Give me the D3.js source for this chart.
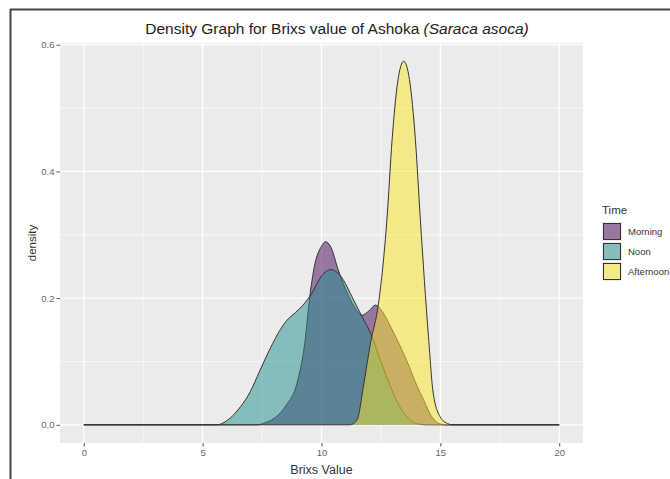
<!DOCTYPE html>
<html><head><meta charset="utf-8">
<script src="https://cdn.jsdelivr.net/npm/d3@7"></script>
<style>body{margin:0;background:#fff}svg{display:block;font-family:"Liberation Sans",Arial,sans-serif}</style>
</head><body>
<svg id="c" width="670" height="479"></svg>
<script>
const seriesNames = ["Morning", "Noon", "Afternoon"];
const seriesColors = ["#440154", "#21908C", "#FDE725"];
// density curves: [brix, density]
const morning = [[0,0],[7.3,0],[7.6,0.003],[8.0,0.01],[8.5,0.03],[9.0,0.07],[9.3,0.13],[9.5,0.2],[9.7,0.25],[10.0,0.282],[10.17,0.289],[10.4,0.28],[10.7,0.245],[11.0,0.215],[11.4,0.185],[11.7,0.173],[12.0,0.18],[12.27,0.189],[12.5,0.182],[12.7,0.17],[13.0,0.148],[13.3,0.125],[13.6,0.1],[14.0,0.063],[14.3,0.039],[14.6,0.015],[14.9,0.003],[15.2,0],[20,0]];
const noon = [[0,0],[5.6,0],[6.0,0.006],[6.6,0.029],[7.0,0.052],[7.4,0.085],[7.86,0.122],[8.2,0.146],[8.5,0.163],[8.9,0.177],[9.2,0.188],[9.6,0.208],[10.0,0.235],[10.4,0.245],[10.8,0.235],[11.35,0.197],[11.7,0.171],[12.13,0.139],[12.4,0.11],[12.8,0.07],[13.2,0.035],[13.6,0.012],[14.0,0.002],[14.4,0],[20,0]];
const afternoon = [[0,0],[11.2,0],[11.5,0.008],[11.76,0.06],[12.06,0.129],[12.4,0.192],[12.75,0.323],[12.97,0.45],[13.2,0.54],[13.46,0.574],[13.7,0.545],[13.95,0.45],[14.16,0.323],[14.5,0.139],[14.7,0.05],[15.0,0.012],[15.3,0.002],[15.5,0],[20,0]];
const seriesData = [morning, noon, afternoon];
const xTicks = [0, 5, 10, 15, 20];
const yTicks = [0, 0.2, 0.4, 0.6];
const titleMain = "Density Graph for Brixs value of Ashoka ";
const titleItalic = "(Saraca asoca)";

const svg = d3.select("#c");
const P = {l: 60, r: 583, t: 43, b: 443};
const x = d3.scaleLinear().domain([-1, 21]).range([P.l, P.r]);
const yMax = 0.574;
const y = d3.scaleLinear().domain([-0.05 * yMax, 1.05 * yMax]).range([P.b, P.t]);

// frame lines
svg.append("line").attr("x1", 10).attr("x2", 670).attr("y1", 9.5).attr("y2", 9.5).attr("stroke", "#444").attr("stroke-width", 2);
svg.append("line").attr("x1", 10.5).attr("x2", 10.5).attr("y1", 9).attr("y2", 479).attr("stroke", "#444").attr("stroke-width", 2);

// panel
svg.append("rect").attr("x", P.l).attr("y", P.t).attr("width", P.r - P.l).attr("height", P.b - P.t).attr("fill", "#EBEBEB");
const g = svg.append("g");
const xMinor = [2.5, 7.5, 12.5, 17.5];
const yMinor = [0.1, 0.3, 0.5];
g.selectAll(".xm").data(xMinor).join("line").attr("x1", d => x(d)).attr("x2", d => x(d)).attr("y1", P.t).attr("y2", P.b).attr("stroke", "#fff").attr("stroke-width", 0.6);
g.selectAll(".ym").data(yMinor).join("line").attr("y1", d => y(d)).attr("y2", d => y(d)).attr("x1", P.l).attr("x2", P.r).attr("stroke", "#fff").attr("stroke-width", 0.6);
g.selectAll(".xM").data(xTicks).join("line").attr("x1", d => x(d)).attr("x2", d => x(d)).attr("y1", P.t).attr("y2", P.b).attr("stroke", "#fff").attr("stroke-width", 1.2);
g.selectAll(".yM").data(yTicks).join("line").attr("y1", d => y(d)).attr("y2", d => y(d)).attr("x1", P.l).attr("x2", P.r).attr("stroke", "#fff").attr("stroke-width", 1.2);

// densities
const area = d3.area().x(d => x(d[0])).y0(y(0)).y1(d => y(d[1])).curve(d3.curveMonotoneX);
const line = d3.line().x(d => x(d[0])).y(d => y(d[1])).curve(d3.curveMonotoneX);
seriesData.forEach((s, i) => {
  svg.append("path").attr("d", area(s)).attr("fill", seriesColors[i]).attr("fill-opacity", 0.5);
  svg.append("path").attr("d", line(s)).attr("fill", "none").attr("stroke", "#333").attr("stroke-width", 1);
});

// axes
const xAxis = svg.append("g").attr("transform", `translate(0,${P.b})`)
  .call(d3.axisBottom(x).tickValues(xTicks).tickSize(3.5).tickPadding(3).tickFormat(d3.format("d")));
const yAxis = svg.append("g").attr("transform", `translate(${P.l},0)`)
  .call(d3.axisLeft(y).tickValues(yTicks).tickSize(3.5).tickPadding(2).tickFormat(d3.format(".1f")));
[xAxis, yAxis].forEach(a => {
  a.select(".domain").remove();
  a.selectAll(".tick line").attr("stroke", "#555");
  a.selectAll(".tick text").attr("fill", "#666").style("font-size", "9.5px").style("font-family", "Liberation Sans, Arial, sans-serif");
});

// titles
const t = svg.append("text").attr("x", 337).attr("y", 34).attr("text-anchor", "middle").attr("fill", "#222").style("font-size", "15.5px");
t.append("tspan").text(titleMain);
t.append("tspan").attr("font-style", "italic").text(titleItalic);
svg.append("text").attr("x", x(10)).attr("y", 474).attr("text-anchor", "middle").attr("fill", "#333").style("font-size", "12.5px").text("Brixs Value");
svg.append("text").attr("transform", `translate(36,${(P.t + P.b) / 2}) rotate(-90)`).attr("text-anchor", "middle").attr("fill", "#333").style("font-size", "11.5px").text("density");

// legend
const L = svg.append("g").attr("transform", "translate(602,0)");
L.append("text").attr("x", 0).attr("y", 214).attr("fill", "#333").style("font-size", "11.5px").text("Time");
seriesNames.forEach((n, i) => {
  const yy = 222 + i * 20;
  L.append("rect").attr("x", 0).attr("y", yy).attr("width", 20).attr("height", 19).attr("fill", "#EBEBEB");
  L.append("rect").attr("x", 1.5).attr("y", yy + 1.5).attr("width", 17).attr("height", 16).attr("fill", seriesColors[i]).attr("fill-opacity", 0.5).attr("stroke", "#333").attr("stroke-width", 1);
  L.append("text").attr("x", 26).attr("y", yy + 13).attr("fill", "#333").style("font-size", "9.5px").text(n);
});
</script>
</body></html>
